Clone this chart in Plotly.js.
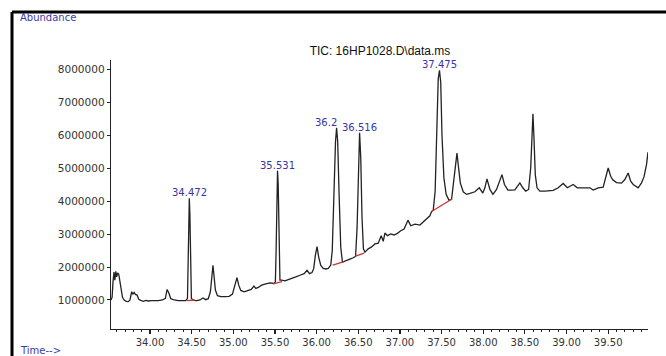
<!DOCTYPE html>
<html><head><meta charset="utf-8">
<script src="https://cdn.plot.ly/plotly-3.0.1.min.js"></script>
<style>html,body{margin:0;padding:0;background:#fff}#chart{width:666px;height:356px}</style>
</head><body><div id="chart"></div>
<script>
// Retention time (min) and abundance of the TIC trace
const timeMin = [33.532,33.545,33.556,33.568,33.578,33.590,33.600,33.612,33.625,33.640,33.655,33.670,33.690,33.715,33.740,33.760,33.780,33.795,33.810,33.825,33.845,33.865,33.890,33.920,33.950,33.980,34.020,34.060,34.100,34.150,34.185,34.205,34.225,34.250,34.290,34.340,34.390,34.430,34.450,34.458,34.465,34.472,34.479,34.487,34.497,34.520,34.560,34.600,34.636,34.670,34.700,34.725,34.743,34.756,34.768,34.785,34.810,34.850,34.900,34.950,34.990,35.020,35.044,35.065,35.090,35.130,35.180,35.215,35.248,35.270,35.300,35.340,35.390,35.440,35.490,35.505,35.514,35.523,35.531,35.539,35.549,35.560,35.580,35.620,35.660,35.700,35.750,35.800,35.850,35.885,35.915,35.945,35.965,35.985,36.005,36.025,36.050,36.080,36.110,36.140,36.170,36.188,36.208,36.227,36.240,36.253,36.270,36.290,36.310,36.350,36.400,36.440,36.468,36.486,36.502,36.516,36.530,36.545,36.562,36.580,36.620,36.660,36.700,36.740,36.775,36.800,36.820,36.850,36.890,36.930,36.970,37.010,37.050,37.097,37.130,37.180,37.240,37.300,37.360,37.380,37.400,37.423,37.443,37.460,37.475,37.490,37.505,37.528,37.555,37.590,37.620,37.650,37.672,37.685,37.700,37.725,37.760,37.800,37.840,37.877,37.900,37.953,37.995,38.020,38.045,38.080,38.117,38.160,38.200,38.225,38.255,38.297,38.340,38.380,38.440,38.475,38.510,38.545,38.570,38.587,38.597,38.608,38.625,38.646,38.680,38.740,38.800,38.840,38.900,38.960,39.010,39.080,39.130,39.200,39.280,39.320,39.380,39.440,39.475,39.500,39.530,39.555,39.600,39.660,39.700,39.740,39.770,39.800,39.860,39.900,39.930,39.960,39.978];
const abundance = [1000000,1080000,1550000,1850000,1600000,1870000,1700000,1820000,1780000,1500000,1250000,1080000,1000000,960000,950000,1000000,1250000,1180000,1230000,1170000,1150000,1020000,990000,960000,990000,970000,980000,970000,980000,1000000,1050000,1320000,1220000,1040000,1000000,980000,970000,980000,1050000,2200000,3700000,4080000,3600000,2000000,1050000,990000,980000,1000000,1060000,1010000,1040000,1250000,1850000,2050000,1750000,1300000,1130000,1100000,1100000,1110000,1180000,1450000,1680000,1450000,1290000,1250000,1300000,1320000,1420000,1350000,1380000,1450000,1490000,1520000,1500000,1550000,2500000,4500000,4920000,4500000,2400000,1600000,1600000,1580000,1620000,1650000,1700000,1750000,1800000,1900000,1800000,1830000,1950000,2350000,2620000,2300000,2050000,1960000,1940000,1960000,2060000,2500000,4300000,5800000,6220000,5800000,4200000,2600000,2150000,2200000,2240000,2280000,2320000,3200000,5100000,6070000,5300000,3500000,2550000,2450000,2550000,2610000,2700000,2720000,2950000,2780000,3030000,2950000,3000000,2970000,3020000,3100000,3150000,3420000,3250000,3300000,3270000,3400000,3550000,3680000,3720000,4300000,6200000,7700000,7960000,7600000,6000000,4700000,4200000,4020000,4050000,4700000,5300000,5450000,5100000,4550000,4280000,4200000,4230000,4250000,4280000,4400000,4240000,4400000,4670000,4350000,4200000,4350000,4650000,4800000,4500000,4330000,4330000,4340000,4550000,4400000,4300000,4350000,5000000,6300000,6640000,6000000,4800000,4400000,4300000,4300000,4300000,4320000,4400000,4530000,4400000,4500000,4400000,4400000,4400000,4330000,4400000,4420000,4750000,5000000,4750000,4640000,4560000,4540000,4650000,4850000,4600000,4500000,4400000,4550000,4730000,5100000,5480000];

// Integration baselines (red), one pair of end points per labelled peak
const baseStartTime = [34.445, 35.477, 36.193, 36.460, 37.380];
const baseEndTime   = [34.540, 35.585, 36.330, 36.570, 37.625];
const baseStartAbund = [980000, 1490000, 2060000, 2320000, 3680000];
const baseEndAbund   = [1000000, 1560000, 2160000, 2420000, 4060000];

// Peak labels
const peakLabels = ['34.472', '35.531', '36.2', '36.516', '37.475'];
const peakTimes  = [34.472, 35.531, 36.240, 36.516, 37.475];
const peakApex   = [4080000, 4920000, 6220000, 6070000, 7960000];

const plotTitle = 'TIC: 16HP1028.D\\data.ms';
const yTitle = 'Abundance';
const xTitle = 'Time-->';

const traces = [{
  x: timeMin, y: abundance, type: 'scatter', mode: 'lines',
  line: {color: '#222222', width: 1.3}, hoverinfo: 'skip', showlegend: false
}];
for (let i = 0; i < baseStartTime.length; i++) {
  traces.push({
    x: [baseStartTime[i], baseEndTime[i]], y: [baseStartAbund[i], baseEndAbund[i]],
    type: 'scatter', mode: 'lines', line: {color: '#cc3333', width: 1.3},
    hoverinfo: 'skip', showlegend: false
  });
}

const labelFont = {family: 'DejaVu Sans, sans-serif', size: 10, color: '#3535a5'};
const annotations = peakLabels.map((t, i) => ({
  x: peakTimes[i], y: peakApex[i], xref: 'x', yref: 'y', text: t,
  showarrow: false, yanchor: 'bottom', xanchor: (t.length < 5 ? 'right' : 'center'),
  xshift: (t.length < 5 ? 2 : 0), yshift: -2, font: labelFont
}));
annotations.push({xref: 'paper', yref: 'paper', x: (18 - 111) / 537, y: (329 - 18) / 269,
  xanchor: 'left', yanchor: 'middle', showarrow: false, text: yTitle,
  font: {family: 'DejaVu Sans, sans-serif', size: 10, color: '#3a3aaa'}});
annotations.push({xref: 'paper', yref: 'paper', x: (18 - 111) / 537, y: (329 - 343) / 269,
  xanchor: 'left', yanchor: 'top', showarrow: false, text: xTitle,
  font: {family: 'DejaVu Sans, sans-serif', size: 10, color: '#3a3aaa'}});

const layout = {
  width: 666, height: 356,
  margin: {l: 111, r: 18, t: 60, b: 27, pad: 0},
  paper_bgcolor: '#ffffff', plot_bgcolor: '#ffffff',
  title: {text: plotTitle, x: 380 / 666, xanchor: 'center', xref: 'container',
    y: 1 - 51 / 356, yanchor: 'middle', yref: 'container',
    font: {family: 'Liberation Sans Narrow, Liberation Sans, Arial, sans-serif', size: 12, color: '#111'}},
  xaxis: {
    range: [33.532, 39.978], showgrid: false, zeroline: false,
    showline: true, linecolor: '#222', linewidth: 1.3,
    ticks: 'outside', ticklen: 4, tickwidth: 1.2, tickcolor: '#222',
    tick0: 0, dtick: 0.5, tickformat: '.2f',
    minor: {dtick: 0.1, tick0: 0, ticks: 'outside', ticklen: 2, tickwidth: 1, tickcolor: '#222', showgrid: false},
    tickfont: {family: 'DejaVu Sans, sans-serif', size: 10, color: '#333'}
  },
  yaxis: {
    range: [121000, 8273000], showgrid: false, zeroline: false,
    showline: true, linecolor: '#222', linewidth: 1.3,
    ticks: 'outside', ticklen: 3, tickwidth: 1, tickcolor: '#222',
    tick0: 0, dtick: 1000000, tickformat: 'd',
    tickfont: {family: 'DejaVu Sans, sans-serif', size: 10.5, color: '#333'}
  },
  annotations: annotations,
  shapes: [
    {type: 'line', xref: 'paper', yref: 'paper', x0: (12 - 111) / 537, x1: (12 - 111) / 537,
      y0: (329 - 12) / 269, y1: (329 - 360) / 269, line: {color: '#000', width: 3}},
    {type: 'line', xref: 'paper', yref: 'paper', x0: (12 - 111) / 537, x1: (670 - 111) / 537,
      y0: (329 - 12) / 269, y1: (329 - 12) / 269, line: {color: '#000', width: 3}}
  ],
  showlegend: false
};
Plotly.newPlot('chart', traces, layout, {displayModeBar: false, staticPlot: true});
</script></body></html>
